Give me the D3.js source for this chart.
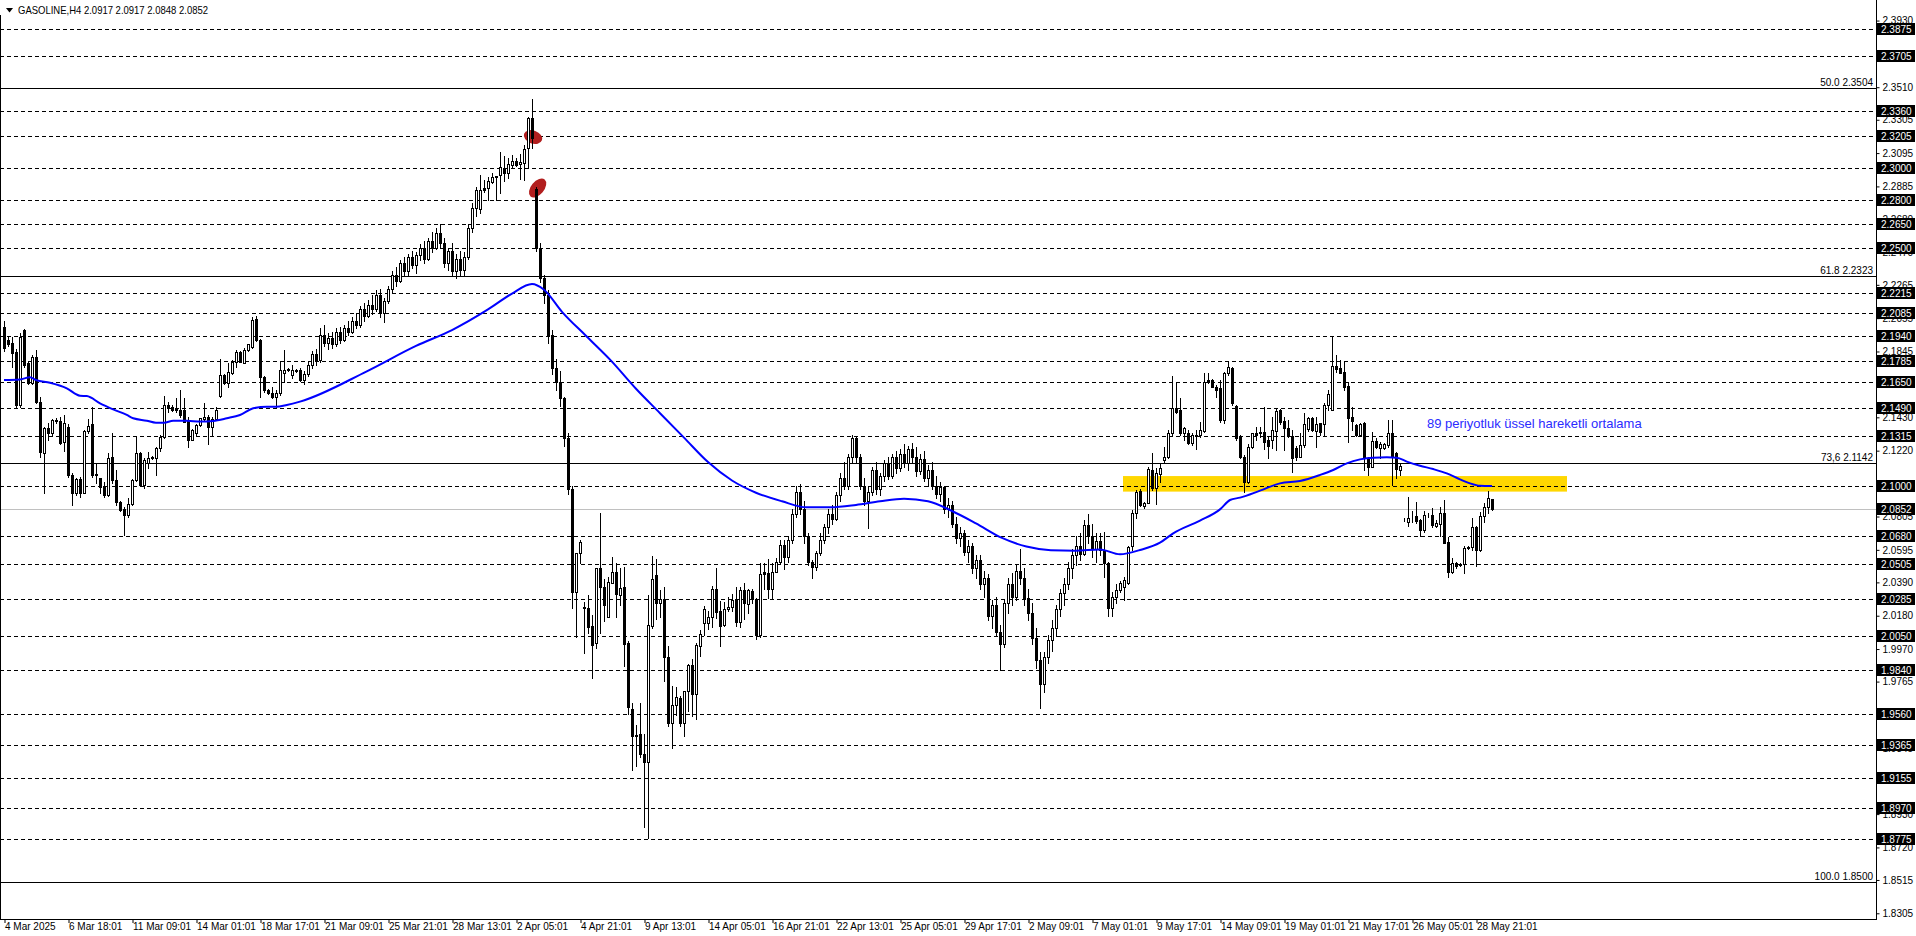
<!DOCTYPE html>
<html><head><meta charset="utf-8">
<script src="https://cdn.jsdelivr.net/npm/d3@7"></script>
<style>body{margin:0;background:#fff;overflow:hidden}text{font-family:"Liberation Sans",Arial,sans-serif}</style>
</head><body>
<svg id="chart" width="1916" height="936"></svg>
<script>
// ---------- DATA ----------
const opens = [
2.2000,2.1917,2.1896,2.1843,2.1508,2.1980,2.1770,2.1644,2.1812,2.1528,
2.1203,2.1360,2.1329,2.1413,2.1410,2.1276,2.1370,2.1066,2.0951,2.1040,
2.0955,2.1343,2.1385,2.1066,2.1045,2.0997,2.0940,2.1182,2.1035,2.0898,
2.0850,2.0815,2.0884,2.1035,2.1207,2.1003,2.1140,2.1171,2.1171,2.1234,
2.1304,2.1508,2.1497,2.1476,2.1476,2.1476,2.1413,2.1290,2.1329,2.1382,
2.1420,2.1434,2.1371,2.1420,2.1564,2.1697,2.1644,2.1707,2.1776,2.1843,
2.1770,2.1854,2.1875,2.2050,2.1917,2.1686,2.1602,2.1581,2.1560,2.1581,
2.1707,2.1728,2.1697,2.1728,2.1728,2.1665,2.1700,2.1760,2.1830,2.1790,
2.1950,2.1900,2.1930,2.1890,2.1970,2.1920,2.1990,2.1970,2.2040,2.2010,
2.2110,2.2070,2.2140,2.2110,2.2200,2.2090,2.2160,2.2240,2.2330,2.2290,
2.2400,2.2350,2.2440,2.2390,2.2450,2.2500,2.2430,2.2540,2.2500,2.2590,
2.2530,2.2400,2.2480,2.2350,2.2430,2.2360,2.2440,2.2620,2.2750,2.2740,
2.2873,2.2873,2.2915,2.2943,2.2957,2.3000,2.2967,2.3020,2.3047,2.3026,
2.3034,2.3125,2.3314,2.2870,2.2500,2.2310,2.2200,2.1950,2.1740,2.1650,
2.1550,2.1300,2.0980,2.0332,2.0573,2.0237,2.0226,2.0115,2.0010,2.0478,
2.0363,2.0170,2.0384,2.0453,2.0310,2.0359,2.0006,1.9590,1.9428,1.9432,
1.9307,1.9260,2.0115,2.0436,2.0262,2.0283,1.9922,1.9502,1.9617,1.9660,
1.9506,1.9708,1.9869,1.9687,1.9989,2.0136,2.0136,2.0170,2.0346,2.0209,
2.0121,2.0222,2.0233,2.0279,2.0142,2.0342,2.0254,2.0338,2.0285,2.0058,
2.0453,2.0447,2.0346,2.0457,2.0520,2.0625,2.0548,2.0660,2.0820,2.0960,
2.0850,2.0680,2.0520,2.0485,2.0577,2.0660,2.0740,2.0820,2.0790,2.0940,
2.1050,2.1000,2.1180,2.1300,2.1180,2.1000,2.0900,2.0960,2.1100,2.0980,
2.1060,2.1140,2.1060,2.1180,2.1110,2.1200,2.1140,2.1230,2.1180,2.1090,
2.1170,2.1050,2.1100,2.1000,2.0950,2.0990,2.0850,2.0880,2.0760,2.0670,
2.0700,2.0580,2.0620,2.0480,2.0530,2.0380,2.0420,2.0180,2.0250,2.0080,
2.0000,2.0260,2.0380,2.0300,2.0460,2.0420,2.0290,2.0200,2.0040,1.9900,
1.9750,1.9920,2.0030,2.0100,2.0220,2.0320,2.0380,2.0480,2.0560,2.0620,
2.0570,2.0750,2.0680,2.0600,2.0650,2.0594,2.0514,2.0230,2.0300,2.0342,
2.0363,2.0384,2.0619,2.0829,2.0965,2.0870,2.0892,2.1098,2.0982,2.1073,
2.1161,2.1178,2.1329,2.1487,2.1476,2.1329,2.1329,2.1270,2.1312,2.1318,
2.1346,2.1665,2.1665,2.1623,2.1613,2.1413,2.1707,2.1738,2.1501,2.1304,
2.1182,2.1024,2.1241,2.1329,2.1333,2.1340,2.1287,2.1287,2.1346,2.1476,
2.1409,2.1360,2.1312,2.1235,2.1182,2.1256,2.1354,2.1423,2.1344,2.1392,
2.1388,2.1507,2.1476,2.1753,2.1738,2.1718,2.1627,2.1434,2.1382,2.1318,
2.1392,2.1171,2.1119,2.1283,2.1234,2.1234,2.1256,2.1329,2.1203,2.1098,
2.0787,2.0773,2.0804,2.0808,2.0783,2.0720,2.0815,2.0815,2.0745,2.0758,
2.0829,2.0646,2.0457,2.0510,2.0500,2.0506,2.0609,2.0615,2.0741,2.0594,
2.0808,2.0863,2.0917];
const highs = [
2.2040,2.1940,2.1938,2.1860,2.1959,2.1985,2.1780,2.1822,2.1854,2.1556,
2.1370,2.1392,2.1420,2.1425,2.1430,2.1444,2.1390,2.1077,2.1045,2.1056,
2.1350,2.1420,2.1493,2.1140,2.1045,2.1024,2.1207,2.1329,2.1098,2.0905,
2.0867,2.0920,2.1040,2.1304,2.1212,2.1171,2.1213,2.1185,2.1240,2.1318,
2.1564,2.1528,2.1505,2.1550,2.1602,2.1550,2.1434,2.1355,2.1390,2.1425,
2.1518,2.1445,2.1434,2.1493,2.1800,2.1705,2.1770,2.1790,2.1854,2.1850,
2.1864,2.1895,2.2060,2.2070,2.1925,2.1690,2.1610,2.1623,2.1600,2.1780,
2.1854,2.1740,2.1760,2.1735,2.1740,2.1720,2.1780,2.1850,2.1860,2.1990,
2.2010,2.1960,2.1970,2.1990,2.2000,2.2010,2.2040,2.2060,2.2090,2.2130,
2.2150,2.2170,2.2200,2.2230,2.2240,2.2180,2.2260,2.2350,2.2380,2.2420,
2.2440,2.2460,2.2480,2.2470,2.2520,2.2540,2.2560,2.2600,2.2620,2.2650,
2.2560,2.2500,2.2530,2.2460,2.2480,2.2470,2.2650,2.2780,2.2880,2.2960,
2.2925,2.2943,2.2968,2.2951,2.3104,2.3077,2.3062,2.3083,2.3062,2.3089,
2.3146,2.3320,2.3434,2.2880,2.2530,2.2330,2.2230,2.1980,2.1800,2.1720,
2.1560,2.1330,2.1000,2.0575,2.0657,2.0268,2.0310,2.0184,2.0478,2.0830,
2.0409,2.0426,2.0548,2.0510,2.0478,2.0485,2.0021,1.9628,1.9491,1.9628,
1.9432,2.0310,2.0556,2.0535,2.0342,2.0359,1.9989,1.9737,1.9733,1.9674,
1.9708,1.9876,1.9907,2.0006,2.0090,2.0241,2.0210,2.0367,2.0478,2.0273,
2.0268,2.0300,2.0317,2.0363,2.0363,2.0388,2.0346,2.0346,2.0290,2.0514,
2.0510,2.0535,2.0514,2.0541,2.0657,2.0657,2.0680,2.0850,2.1000,2.1010,
2.0900,2.0700,2.0530,2.0590,2.0700,2.0760,2.0850,2.0880,2.0960,2.1080,
2.1150,2.1200,2.1320,2.1310,2.1200,2.1050,2.1000,2.1120,2.1150,2.1080,
2.1160,2.1180,2.1200,2.1220,2.1230,2.1260,2.1250,2.1270,2.1240,2.1200,
2.1220,2.1130,2.1150,2.1060,2.1020,2.1000,2.0920,2.0900,2.0800,2.0740,
2.0720,2.0660,2.0640,2.0560,2.0560,2.0460,2.0440,2.0280,2.0300,2.0120,
2.0280,2.0420,2.0450,2.0500,2.0600,2.0480,2.0350,2.0260,2.0100,1.9950,
1.9950,2.0060,2.0150,2.0250,2.0350,2.0420,2.0520,2.0600,2.0680,2.0700,
2.0780,2.0820,2.0760,2.0700,2.0700,2.0709,2.0520,2.0330,2.0380,2.0400,
2.0426,2.0620,2.0846,2.0972,2.0980,2.0895,2.1119,2.1203,2.1109,2.1140,
2.1245,2.1350,2.1690,2.1655,2.1550,2.1371,2.1350,2.1329,2.1350,2.1402,
2.1707,2.1707,2.1670,2.1634,2.1665,2.1718,2.1780,2.1749,2.1507,2.1318,
2.1192,2.1262,2.1333,2.1367,2.1371,2.1493,2.1308,2.1434,2.1487,2.1480,
2.1434,2.1413,2.1350,2.1250,2.1333,2.1455,2.1430,2.1430,2.1434,2.1396,
2.1518,2.1602,2.1938,2.1823,2.1791,2.1780,2.1655,2.1497,2.1388,2.1392,
2.1403,2.1182,2.1340,2.1297,2.1277,2.1270,2.1413,2.1413,2.1213,2.1136,
2.0794,2.0930,2.0842,2.0898,2.0787,2.0842,2.0825,2.0857,2.0783,2.0867,
2.0909,2.0678,2.0541,2.0520,2.0514,2.0619,2.0620,2.0793,2.0745,2.0835,
2.0892,2.0968,2.0917];
const lows = [
2.1850,2.1880,2.1749,2.1493,2.1497,2.1749,2.1640,2.1640,2.1522,2.1182,
2.0951,2.1287,2.1310,2.1395,2.1260,2.1220,2.1056,2.0878,2.0940,2.0930,
2.0951,2.1329,2.1056,2.1014,2.0951,2.0930,2.0934,2.1014,2.0878,2.0840,
2.0690,2.0804,2.0878,2.1031,2.1000,2.0982,2.1109,2.1165,2.1066,2.1220,
2.1297,2.1465,2.1470,2.1465,2.1434,2.1403,2.1245,2.1285,2.1320,2.1378,
2.1413,2.1262,2.1320,2.1413,2.1560,2.1640,2.1623,2.1700,2.1749,2.1780,
2.1770,2.1850,2.1870,2.1910,2.1560,2.1590,2.1575,2.1550,2.1487,2.1570,
2.1655,2.1720,2.1680,2.1715,2.1660,2.1640,2.1690,2.1740,2.1760,2.1780,
2.1880,2.1860,2.1870,2.1880,2.1900,2.1910,2.1950,2.1960,2.1990,2.2000,
2.2040,2.2060,2.2080,2.2100,2.2060,2.2030,2.2150,2.2220,2.2260,2.2280,
2.2320,2.2330,2.2370,2.2340,2.2420,2.2400,2.2420,2.2470,2.2490,2.2500,
2.2380,2.2360,2.2330,2.2310,2.2330,2.2330,2.2430,2.2600,2.2700,2.2720,
2.2850,2.2800,2.2905,2.2800,2.2846,2.2922,2.2936,2.3010,2.3014,2.2930,
2.2925,2.3010,2.3125,2.2480,2.2280,2.2150,2.1900,2.1700,2.1600,2.1500,
2.1250,2.0950,2.0226,2.0048,2.0510,1.9943,2.0069,1.9785,1.9974,2.0073,
2.0149,2.0170,2.0384,2.0170,2.0247,1.9863,1.9559,1.9208,1.9233,1.9288,
1.8847,1.8777,2.0100,2.0159,2.0174,1.9771,1.9485,1.9348,1.9554,1.9485,
1.9422,1.9582,1.9548,1.9529,1.9926,2.0059,2.0094,2.0107,2.0163,1.9989,
2.0115,2.0212,2.0212,2.0115,2.0111,2.0159,2.0199,2.0262,2.0031,2.0048,
2.0346,2.0290,2.0290,2.0453,2.0506,2.0472,2.0520,2.0640,2.0800,2.0820,
2.0640,2.0500,2.0415,2.0470,2.0560,2.0640,2.0700,2.0760,2.0780,2.0900,
2.0980,2.0980,2.1150,2.1150,2.0980,2.0880,2.0730,2.0940,2.0950,2.0940,
2.1030,2.1040,2.1050,2.1080,2.1090,2.1120,2.1100,2.1150,2.1060,2.1070,
2.1030,2.1000,2.0980,2.0920,2.0900,2.0830,2.0800,2.0740,2.0640,2.0620,
2.0560,2.0520,2.0450,2.0420,2.0350,2.0300,2.0150,2.0100,2.0050,1.9840,
1.9980,2.0200,2.0250,2.0280,2.0380,2.0250,2.0150,2.0000,1.9850,1.9600,
1.9700,1.9880,1.9960,2.0050,2.0180,2.0250,2.0350,2.0420,2.0500,2.0530,
2.0560,2.0640,2.0550,2.0520,2.0560,2.0426,2.0180,2.0180,2.0260,2.0330,
2.0279,2.0380,2.0594,2.0794,2.0870,2.0860,2.0888,2.0972,2.0884,2.1024,
2.1150,2.1172,2.1318,2.1455,2.1318,2.1287,2.1262,2.1256,2.1228,2.1308,
2.1340,2.1644,2.1620,2.1560,2.1403,2.1392,2.1697,2.1507,2.1287,2.1171,
2.0961,2.1014,2.1234,2.1287,2.1308,2.1228,2.1171,2.1234,2.1224,2.1388,
2.1224,2.1308,2.1088,2.1160,2.1178,2.1245,2.1346,2.1346,2.1245,2.1318,
2.1318,2.1476,2.1476,2.1718,2.1707,2.1602,2.1277,2.1350,2.1312,2.1312,
2.1098,2.1066,2.1115,2.1234,2.1171,2.1228,2.1245,2.1003,2.1045,2.1066,
2.0779,2.0745,2.0773,2.0762,2.0682,2.0710,2.0804,2.0741,2.0737,2.0682,
2.0636,2.0422,2.0447,2.0478,2.0493,2.0451,2.0600,2.0594,2.0493,2.0590,
2.0773,2.0825,2.0848];
const closes = [
2.1870,2.1890,2.1833,2.1508,2.1938,2.1760,2.1644,2.1812,2.1528,2.1213,
2.1360,2.1329,2.1413,2.1410,2.1270,2.1392,2.1066,2.0951,2.1040,2.0951,
2.1343,2.1378,2.1066,2.1070,2.0993,2.0940,2.1171,2.1035,2.0898,2.0846,
2.0815,2.0884,2.1035,2.1203,2.1003,2.1161,2.1171,2.1180,2.1234,2.1308,
2.1508,2.1487,2.1476,2.1480,2.1445,2.1403,2.1287,2.1350,2.1382,2.1423,
2.1434,2.1371,2.1420,2.1476,2.1697,2.1644,2.1718,2.1780,2.1843,2.1780,
2.1854,2.1892,2.2043,2.1917,2.1686,2.1600,2.1581,2.1560,2.1581,2.1728,
2.1728,2.1735,2.1728,2.1722,2.1665,2.1700,2.1760,2.1830,2.1790,2.1950,
2.1900,2.1930,2.1890,2.1970,2.1920,2.1990,2.1970,2.2040,2.2010,2.2110,
2.2070,2.2140,2.2110,2.2200,2.2090,2.2160,2.2240,2.2330,2.2290,2.2400,
2.2350,2.2440,2.2390,2.2450,2.2500,2.2430,2.2540,2.2500,2.2590,2.2530,
2.2400,2.2480,2.2350,2.2430,2.2360,2.2440,2.2620,2.2750,2.2860,2.2862,
2.2862,2.2922,2.2943,2.2950,2.3010,2.2972,2.3026,2.3047,2.3020,2.3041,
2.3119,2.3314,2.3188,2.2500,2.2310,2.2200,2.1950,2.1740,2.1650,2.1550,
2.1300,2.0980,2.0330,2.0573,2.0646,2.0230,2.0111,1.9996,2.0478,2.0363,
2.0247,2.0390,2.0453,2.0315,2.0352,2.0000,1.9607,1.9424,1.9424,1.9307,
1.9260,2.0121,2.0409,2.0258,2.0283,1.9922,1.9502,1.9617,1.9670,1.9506,
1.9708,1.9869,1.9687,1.9995,2.0063,2.0222,2.0170,2.0346,2.0205,2.0117,
2.0220,2.0233,2.0279,2.0142,2.0342,2.0258,2.0342,2.0283,2.0058,2.0443,
2.0443,2.0346,2.0453,2.0520,2.0625,2.0548,2.0660,2.0820,2.0960,2.0850,
2.0680,2.0520,2.0490,2.0577,2.0660,2.0740,2.0820,2.0790,2.0940,2.1050,
2.1000,2.1180,2.1300,2.1180,2.1000,2.0900,2.0960,2.1100,2.0980,2.1060,
2.1140,2.1060,2.1180,2.1110,2.1200,2.1140,2.1230,2.1180,2.1090,2.1170,
2.1050,2.1100,2.1000,2.0950,2.0990,2.0850,2.0880,2.0760,2.0670,2.0700,
2.0580,2.0620,2.0480,2.0530,2.0380,2.0420,2.0180,2.0250,2.0080,2.0000,
2.0260,2.0380,2.0300,2.0460,2.0420,2.0290,2.0200,2.0040,1.9900,1.9750,
1.9920,2.0030,2.0100,2.0220,2.0320,2.0380,2.0480,2.0560,2.0620,2.0570,
2.0750,2.0680,2.0600,2.0650,2.0594,2.0514,2.0230,2.0300,2.0342,2.0384,
2.0405,2.0615,2.0829,2.0961,2.0880,2.0888,2.1102,2.0982,2.1077,2.1109,
2.1182,2.1329,2.1487,2.1466,2.1329,2.1360,2.1266,2.1318,2.1318,2.1350,
2.1655,2.1655,2.1623,2.1602,2.1413,2.1707,2.1745,2.1518,2.1298,2.1178,
2.1024,2.1245,2.1329,2.1318,2.1340,2.1276,2.1249,2.1350,2.1472,2.1402,
2.1360,2.1312,2.1171,2.1178,2.1256,2.1388,2.1423,2.1350,2.1388,2.1340,
2.1507,2.1577,2.1753,2.1732,2.1711,2.1623,2.1424,2.1409,2.1318,2.1388,
2.1171,2.1119,2.1283,2.1245,2.1262,2.1262,2.1329,2.1182,2.1102,2.1123,
2.0787,2.0794,2.0800,2.0779,2.0720,2.0815,2.0812,2.0752,2.0762,2.0829,
2.0640,2.0457,2.0514,2.0493,2.0506,2.0609,2.0615,2.0737,2.0594,2.0808,
2.0863,2.0919,2.0852];

// 89-period EMA at sample bars
const emaBars   = [0,4,6.5,8,11.5,15.7,19,20.7,24,27.3,30.7,32.3,35.7,38,40,42.3,45.7,49,52.3,55.7,59,62.3,65.7,68,70.7,74,
  90.7,103,112,121,127,132,135,139.5,145.6,151.75,158,164,170,176,182,188,194.5,200.6,206.7,213,219,225,231,237,243,249.5,255.6,261.7,267.8,
  274,279,284,289,292.3,299,304,306.5,309,314,319,324,329,332.3,335.7,339,342.3,345.7,348.2,350.7,354,357.3,360.7,364,366.5,369,372];
const emaValues = [2.1665,2.1669,2.1682,2.1665,2.1648,2.1613,2.1566,2.1564,2.1518,2.1480,2.1445,2.1424,2.1409,2.1396,2.1396,2.1409,2.1409,2.1403,2.1407,2.1424,2.1445,2.1487,2.1497,2.1497,2.1508,2.1529,
  2.1720,2.1880,2.1980,2.2110,2.2210,2.2270,2.2234,2.2095,2.1941,2.1787,2.1610,2.1456,2.1302,2.1148,2.1032,2.0955,2.0901,2.0863,2.0863,2.0878,2.0901,2.0917,2.0901,2.0840,2.0762,2.0670,2.0616,2.0593,2.0590,
  2.0598,2.0567,2.0594,2.0640,2.0699,2.0779,2.0850,2.0909,2.0924,2.0968,2.1014,2.1029,2.1067,2.1098,2.1140,2.1165,2.1176,2.1178,2.1176,2.1151,2.1125,2.1104,2.1077,2.1039,2.1014,2.0999,2.0997];

const timeLabels = ["4 Mar 2025","6 Mar 18:01","11 Mar 09:01","14 Mar 01:01","18 Mar 17:01","21 Mar 09:01","25 Mar 21:01","28 Mar 13:01","2 Apr 05:01","4 Apr 21:01","9 Apr 13:01","14 Apr 05:01","16 Apr 21:01","22 Apr 13:01","25 Apr 05:01","29 Apr 17:01","2 May 09:01","7 May 01:01","9 May 17:01","14 May 09:01","19 May 01:01","21 May 17:01","26 May 05:01","28 May 21:01"];
const timeLabelBars = [0,16,32,48,64,80,96,112,128,144,160,176,192,208,224,240,256,272,288,304,320,336,352,368];

const axisTicks = [2.3930,2.3720,2.3510,2.3305,2.3095,2.2885,2.2680,2.2470,2.2265,2.2055,2.1845,2.1640,2.1430,2.1220,2.1010,2.0805,2.0595,2.0390,2.0180,1.9970,1.9765,1.9555,1.9345,1.9140,1.8930,1.8720,1.8515,1.8305];
const hiddenTicks = [2.3720,2.1640,2.1010,1.9555];
const levelPrices = [2.3875,2.3705,2.3360,2.3205,2.3000,2.2800,2.2650,2.2500,2.2215,2.2085,2.1940,2.1785,2.1650,2.1490,2.1315,2.1000,2.0680,2.0505,2.0285,2.0050,1.9840,1.9560,1.9365,1.9155,1.8970,1.8775];
const fibPrices = [2.3504,2.2323,2.1142,1.8500];
const fibLabels = ["50.0 2.3504","61.8 2.2323","73,6 2.1142","100.0 1.8500"];
const bidPrice = 2.0852;
const titleText = "GASOLINE,H4  2.0917 2.0917 2.0848 2.0852";
const noteText = "89 periyotluk üssel hareketli ortalama";
const zoneBars = [279.75, 390.75];
const zonePrices = [2.1060, 2.0962];
const markBars = [132.25, 133.4];
const markPrices = [2.3196, 2.2875];

// ---------- DRAW ----------
const W = 1916, H = 936, axisX = 1876, axisY = 919;
const svg = d3.select('#chart');
const x = d3.scaleLinear().domain([0, 372]).range([4, 1492]);
const y = d3.scaleLinear().domain([2.3875, 1.8775]).range([29.3, 838.7]);
const sy = v => Math.round(y(v)) + 0.5;
const sx = v => Math.round(x(v)) + 0.5;

svg.append('rect').attr('width', W).attr('height', H).attr('fill', '#fff');
svg.append('clipPath').attr('id', 'clip').append('rect').attr('x', 1).attr('y', 1).attr('width', axisX - 1).attr('height', axisY - 1);
const plot = svg.append('g').attr('clip-path', 'url(#clip)');

// zone
plot.append('rect')
  .attr('x', x(zoneBars[0])).attr('width', x(zoneBars[1]) - x(zoneBars[0]))
  .attr('y', y(zonePrices[0])).attr('height', y(zonePrices[1]) - y(zonePrices[0]))
  .attr('fill', '#ffd700');

// dashed levels
plot.selectAll('line.lvl').data(levelPrices).join('line').attr('class', 'lvl')
  .attr('x1', 0).attr('x2', axisX).attr('y1', d => sy(d)).attr('y2', d => sy(d))
  .attr('stroke', '#000').attr('stroke-width', 1).attr('stroke-dasharray', '4,3').attr('shape-rendering', 'crispEdges');

// fib lines
plot.selectAll('line.fib').data(fibPrices).join('line').attr('class', 'fib')
  .attr('x1', 0).attr('x2', axisX).attr('y1', d => sy(d)).attr('y2', d => sy(d))
  .attr('stroke', '#000').attr('stroke-width', 1).attr('shape-rendering', 'crispEdges');

// bid line
plot.append('line').attr('x1', 0).attr('x2', axisX).attr('y1', sy(bidPrice)).attr('y2', sy(bidPrice))
  .attr('stroke', '#c0c0c0').attr('stroke-width', 1).attr('shape-rendering', 'crispEdges');

// red marks
plot.selectAll('ellipse.mark').data(markBars).join('ellipse').attr('class', 'mark')
  .attr('cx', d => x(d)).attr('cy', (d, i) => y(markPrices[i]))
  .attr('rx', (d, i) => i === 0 ? 9.5 : 11).attr('ry', 6.5)
  .attr('transform', (d, i) => `rotate(${i === 0 ? 20 : -50},${x(d)},${y(markPrices[i])})`)
  .attr('fill', '#b21e1e');

// candles
const idx = d3.range(opens.length);
const cg = plot.append('g').attr('shape-rendering', 'crispEdges');
cg.selectAll('line.wick').data(idx).join('line').attr('class', 'wick')
  .attr('x1', i => sx(i)).attr('x2', i => sx(i))
  .attr('y1', i => Math.round(y(Math.max(highs[i], opens[i], closes[i]))))
  .attr('y2', i => Math.round(y(Math.min(lows[i], opens[i], closes[i]))) + 1)
  .attr('stroke', '#000').attr('stroke-width', 1);
cg.selectAll('rect.body').data(idx).join('rect').attr('class', 'body')
  .attr('x', i => Math.round(x(i)) - 0.5)
  .attr('width', 2)
  .attr('y', i => Math.round(y(Math.max(opens[i], closes[i]))) + 0.5)
  .attr('height', i => Math.max(0, Math.round(y(Math.min(opens[i], closes[i]))) - Math.round(y(Math.max(opens[i], closes[i])))))
  .attr('fill', i => closes[i] >= opens[i] ? '#fff' : '#000')
  .attr('stroke', '#000').attr('stroke-width', 1);

// EMA
const emaPts = emaBars.map((b, i) => [b, emaValues[i]]);
plot.append('path').datum(emaPts)
  .attr('d', d3.line().x(d => x(d[0])).y(d => y(d[1])).curve(d3.curveMonotoneX))
  .attr('fill', 'none').attr('stroke', '#0000ff').attr('stroke-width', 2);

// note
svg.append('text').attr('x', 1427).attr('y', 428).attr('font-size', 13).attr('fill', '#2b2bff').text(noteText);

// fib labels
svg.selectAll('text.fibl').data(fibPrices).join('text').attr('class', 'fibl')
  .attr('x', 1873).attr('y', d => sy(d) - 2.5).attr('text-anchor', 'end')
  .attr('font-size', 10).attr('fill', '#000').text((d, i) => fibLabels[i]);

// frame
svg.append('line').attr('x1', 0.5).attr('x2', 0.5).attr('y1', 15).attr('y2', axisY).attr('stroke', '#000');
svg.append('line').attr('x1', 0).attr('x2', axisX).attr('y1', axisY + 0.5).attr('y2', axisY + 0.5).attr('stroke', '#000');
svg.append('line').attr('x1', axisX + 0.5).attr('x2', axisX + 0.5).attr('y1', 0).attr('y2', axisY + 1).attr('stroke', '#000');

// right axis
const yAxis = d3.axisRight(y).tickValues(axisTicks).tickSize(3).tickPadding(3)
  .tickFormat(d => hiddenTicks.includes(d) ? '' : d.toFixed(4));
const ya = svg.append('g').attr('transform', `translate(${axisX + 0.5},0)`).call(yAxis);
ya.select('.domain').remove();
ya.selectAll('text').attr('font-size', 10).attr('fill', '#000').attr('font-family', '"Liberation Sans",Arial,sans-serif');
ya.selectAll('line').attr('stroke', '#000');

// level boxes
const boxes = svg.append('g');
const boxVals = levelPrices.concat([bidPrice]);
boxes.selectAll('rect').data(boxVals).join('rect')
  .attr('x', axisX + 1).attr('width', 38).attr('y', d => Math.round(y(d)) - 6).attr('height', 12).attr('fill', '#000');
boxes.selectAll('text').data(boxVals).join('text')
  .attr('x', axisX + 5).attr('y', d => Math.round(y(d)) + 4).attr('font-size', 10).attr('fill', '#fff')
  .text(d => d.toFixed(4));

// bottom axis
const xAxis = d3.axisBottom(x).tickValues(timeLabelBars).tickSize(4).tickPadding(2).tickFormat((d, i) => timeLabels[i]);
const xa = svg.append('g').attr('transform', `translate(0.5,${axisY})`).call(xAxis);
xa.select('.domain').remove();
xa.selectAll('text').attr('text-anchor', 'start').attr('x', 0).attr('y', 4).attr('font-size', 10).attr('fill', '#000').attr('font-family', '"Liberation Sans",Arial,sans-serif');
xa.selectAll('line').attr('stroke', '#000');

// title
svg.append('path').attr('d', 'M6,8 L13,8 L9.5,12.5 Z').attr('fill', '#000');
svg.append('text').attr('x', 18).attr('y', 14).attr('font-size', 10.5).attr('textLength', 190).attr('lengthAdjust', 'spacingAndGlyphs').attr('fill', '#000').text(titleText);
</script>
</body></html>
